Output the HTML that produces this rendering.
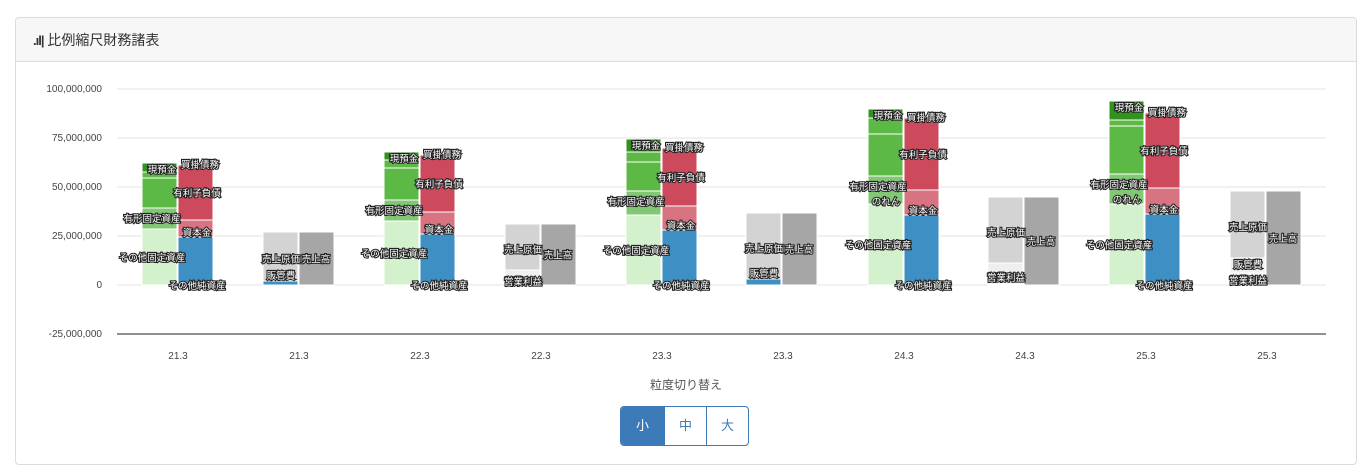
<!DOCTYPE html>
<html><head><meta charset="utf-8">
<style>
body{margin:0;background:#fff;font-family:"Liberation Sans","Noto Sans CJK JP",sans-serif;}
.card{position:absolute;left:15px;top:17px;width:1340px;height:446px;border:1px solid #dcdcdc;border-radius:4px;overflow:hidden}
.hdr{height:43px;background:#f7f7f7;border-bottom:1px solid #dcdcdc;font-size:14px;color:#333;line-height:44px;padding-left:17px}
svg{position:absolute;left:0;top:0}
.btns{position:absolute;left:620px;top:406px;display:flex;border:1px solid #3d7ab8;border-radius:4px;overflow:hidden;height:38px}
.btns div{width:41px;text-align:center;line-height:38px;font-size:13px;color:#3d7ab8;border-left:1px solid #3d7ab8}
.btns div:first-child{border-left:none;background:#3d7ab8;color:#fff;width:43px}
</style></head><body>
<div class="card"><div class="hdr"><span style="font-size:13px;font-weight:bold;letter-spacing:-1px">.ıl|</span> 比例縮尺財務諸表</div></div>
<svg width="1372" height="473" id="s" font-family="Liberation Sans, Noto Sans CJK JP, sans-serif"></svg>
<div class="btns"><div>小</div><div>中</div><div>大</div></div>
<script>
var s='';
[89,138,187,236,285].forEach(function(y){s+='<line x1="117" x2="1326" y1="'+y+'" y2="'+y+'" stroke="#e3e3e3"/>';});
s+='<line x1="117" x2="1326" y1="334" y2="334" stroke="#222"/>';
var yl=['100,000,000','75,000,000','50,000,000','25,000,000','0','-25,000,000'];
yl.forEach(function(t,i){s+='<text x="102" y="'+(92+i*49)+'" font-size="10" fill="#444" text-anchor="end">'+t+'</text>';});
var cats=['21.3','21.3','22.3','22.3','23.3','23.3','24.3','24.3','25.3','25.3'];
cats.forEach(function(t,i){s+='<text x="'+(178+i*121)+'" y="359" font-size="10" fill="#444" text-anchor="middle">'+t+'</text>';});
s+='<text x="686" y="389" font-size="12" fill="#555" text-anchor="middle">粒度切り替え</text>';
var C={dg:'#33921f',g:'#5cb946',mg:'#82c874',lg:'#d4f1cd',r:'#cc4a5c',p:'#d87382',b:'#3d8fc4',lgr:'#d3d3d3',vg:'#efefef',dgr:'#a6a6a6'};
function R(x,y1,y2,c){s+='<rect x="'+x+'" y="'+y1+'" width="35" height="'+(y2-y1)+'" fill="'+C[c]+'" stroke="#fff" stroke-width="1"/>';}
function L(x,y,t){s+='<text x="'+x+'" y="'+y+'" font-size="9.5" fill="#fff" stroke="#222" stroke-width="2.2" paint-order="stroke" text-anchor="middle">'+t+'</text>';}
var bs=[[142,[163,172,178,208,229],[165,220,237]],[384,[152,160,168,200,221],[155,212,234]],[626,[139,152,162,191,215],[148,206,230]],[868,[109,118,134,176,204],[118,190,215]],[1109,[101,120,126,174,204],[113,188,214]]];
bs.forEach(function(b){var x=b[0],l=b[1],r=b[2];
R(x,l[0],l[1],'dg');R(x,l[1],l[2],'g');R(x,l[2],l[3],'g');R(x,l[3],l[4],'mg');R(x,l[4],285,'lg');
R(x+36,r[0],r[1],'r');R(x+36,r[1],r[2],'p');R(x+36,r[2],285,'b');
L(x+20,l[0]+10,'現預金');L(x+58,r[0]+3,'買掛債務');L(x+55,(r[0]+r[1])/2+4,'有利子負債');
L(x+10,l[3]+14,'有形固定資産');L(x+55,r[2]-1,'資本金');L(x+10,(l[4]+285)/2+4,'その他固定資産');L(x+55,289,'その他純資産');
if(x>800){L(x+18,l[3]+29,'のれん');}
});
var pl=[[263,232,281,0,1],[505,224,270,0,0],[746,213,279,0,1],[988,197,263,284,0],[1230,191,258,273,0]];
pl.forEach(function(p){var x=p[0];
R(x,p[1],p[2],'lgr');
if(p[4]){R(x,p[2],285,'b');} else {R(x,p[2],p[3]||285,'vg'); if(p[3])R(x,p[3],285,'vg');}
R(x+36,p[1],285,'dgr');
L(x+18,(p[1]+p[2])/2+6,'売上原価');L(x+53,(p[1]+285)/2+4,'売上高');
if(p[4])L(x+18,p[2]-2,'販管費');
if(x==505)L(x+18,285,'営業利益');
if(x==988)L(x+18,281,'営業利益');
if(x==1230){L(x+18,p[3]-5,'販管費');L(x+18,284,'営業利益');}
});
document.getElementById('s').innerHTML=s;
</script>
</body></html>
